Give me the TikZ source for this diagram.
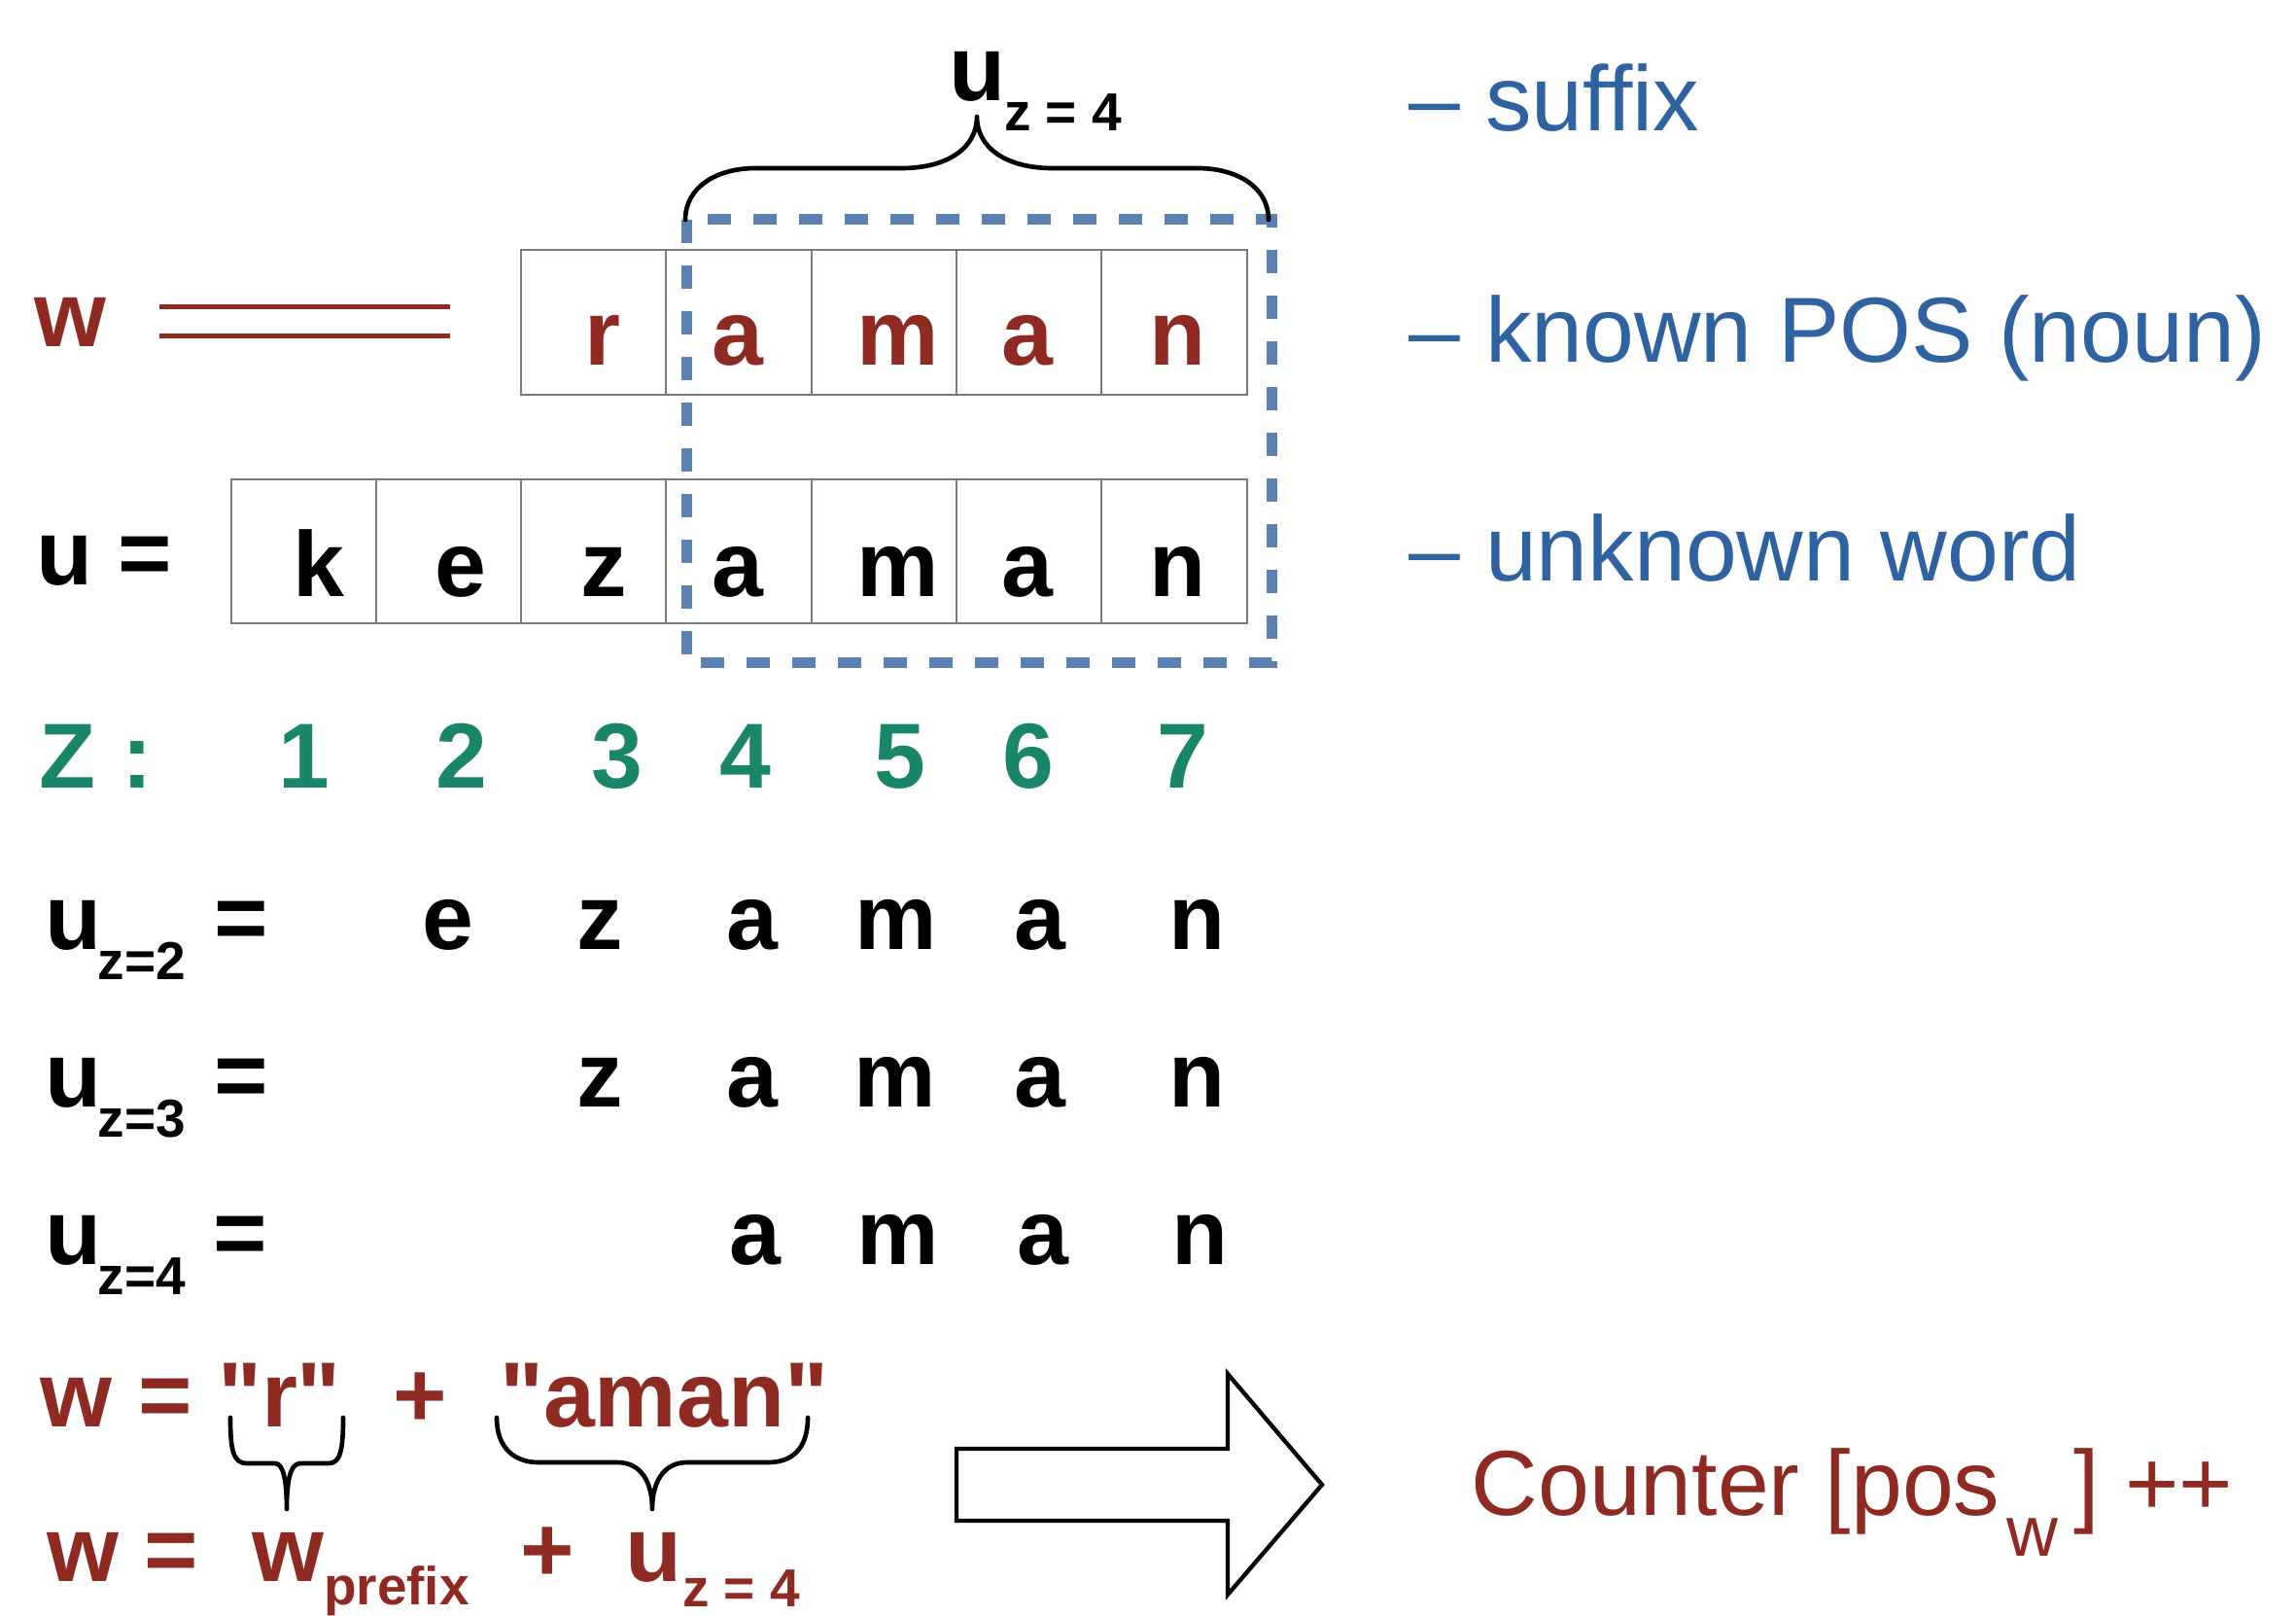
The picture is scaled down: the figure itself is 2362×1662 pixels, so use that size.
\documentclass[tikz,border=0pt]{standalone}
\usepackage{fontspec}
\setmainfont{Liberation Sans}
\newfontfamily\plainsans{Liberation Sans}
\definecolor{dred}{HTML}{8E2A22}
\definecolor{lblue}{HTML}{2E62A0}
\definecolor{dashblue}{HTML}{5B80B2}
\definecolor{zgreen}{HTML}{19866A}
\definecolor{cellgray}{HTML}{7A7A7A}
\begin{document}
\begin{tikzpicture}[x=0.3pt,y=-0.3pt,
  big/.style={font=\plainsans\fontsize{28.5}{34}\selectfont\bfseries, inner sep=0pt, outer sep=0pt},
  subs/.style={font=\plainsans\fontsize{16.5}{20}\selectfont\bfseries, inner sep=0pt, outer sep=0pt, anchor=base west},
  ch/.style={big, anchor=base},
  lft/.style={big, anchor=base west},
  lbl/.style={font=\plainsans\fontsize{28.5}{34}\selectfont, inner sep=0pt, outer sep=0pt, text=lblue, anchor=base west},
  cell/.style={draw=cellgray, line width=0.6pt},
  dashrect/.style={draw=dashblue, line width=3.3pt, dash pattern=on 7.2pt off 6.9pt},
  bracestyle/.style={draw=black, line width=1.4pt, line cap=round, line join=round},
  blockarrow/.style={draw=black, fill=white, line width=1.3pt, line join=miter}
]
\useasboundingbox (0,0) rectangle (2362,1662);

% cells, top row (w)
\foreach \i in {0,...,4}
  \draw[cell] ({536+149.3*\i},257) rectangle ({536+149.3*(\i+1)},406);
% cells, bottom row (u)
\foreach \i in {0,...,6}
  \draw[cell] ({237.5+149.3*\i},493) rectangle ({237.5+149.3*(\i+1)},641);

% dashed suffix frame
\draw[dashrect] (706,226) rectangle (1308,681);

% top brace
\draw[bracestyle] (705,226) .. controls (705,192) and (738,173) .. (777,173)
  -- (927,173) .. controls (975,173) and (1005,152) .. (1005,120)
  .. controls (1005,152) and (1035,173) .. (1083,173)
  -- (1232,173) .. controls (1272,173) and (1305,192) .. (1305,226);
\node[lft] (uz4top) at (976,104) {u};
\node[subs] (uz4topsub) at (1033,135) {z = 4};

% w label and double line
\node[lft, text=dred] (wlabel) at (35,357) {w};
\coordinate (dl1a) at (164,316); \coordinate (dl1b) at (463,316);
\coordinate (dl2a) at (164,346); \coordinate (dl2b) at (463,346);
\draw[dred, line width=1.5pt] (dl1a) -- (dl1b);
\draw[dred, line width=1.5pt] (dl2a) -- (dl2b);

% top row letters
\foreach \x/\c [count=\i] in {620/r,759/a,924/m,1057/a,1211/n}
  \node[ch, text=dred] (w\i) at (\x,376) {\c};

% u row
\node[lft] (ulabel) at (37,601) {u =};
\foreach \x/\c [count=\i] in {328/k,474/e,621/z,759/a,924/m,1057/a,1211/n}
  \node[ch] (u\i) at (\x,613) {\c};

% Z row
\node[lft, text=zgreen] (zlabel) at (41,810) {Z :};
\foreach \x/\c in {313/1,475/2,635/3,767/4,926/5,1058/6,1217/7}
  \node[ch, text=zgreen] (z\c) at (\x,810) {\c};

% u_{z=2}
\node[lft] (ua) at (46,976.5) {u};
\node[subs] (uasub) at (101,1007) {z=2};
\node[ch] (uaeq) at (248,976.5) {=};
\foreach \x/\c [count=\i] in {461/e,617/z,774/a,922/m,1070/a,1231/n}
  \node[ch] (ua\i) at (\x,976.5) {\c};

% u_{z=3}
\node[lft] (ub) at (46,1138) {u};
\node[subs] (ubsub) at (101,1169) {z=3};
\node[ch] (ubeq) at (248,1138) {=};
\foreach \x/\c [count=\i] in {617/z,774/a,921/m,1070/a,1231/n}
  \node[ch] (ub\i) at (\x,1138) {\c};

% u_{z=4}
\node[lft] (uc) at (46,1300) {u};
\node[subs] (ucsub) at (101,1331) {z=4};
\node[ch] (uceq) at (247,1300) {=};
\foreach \x/\c [count=\i] in {777/a,924/m,1073/a,1235/n}
  \node[ch] (uc\i) at (\x,1300) {\c};

% right-hand labels
\node[lbl] (lsuffix) at (1449,134.5) {– suffix};
\node[lbl] (lknown) at (1449,373) {– known POS (noun)};
\node[lbl] (lunknown) at (1449,597) {– unknown word};

% formula line 1
\node[lft, text=dred] (f1w) at (42,1467) {w =};
\node[lft, text=dred] (f1r) at (224,1467) {"r"};
\node[ch, text=dred] (f1plus) at (432,1467) {+};
\node[lft, text=dred] (f1aman) at (514,1467) {"aman"};

% braces under formula line 1
\draw[bracestyle] (237,1458) .. controls (237,1492) and (240,1505) .. (254,1505)
  -- (283,1505) .. controls (292,1505) and (295,1525) .. (295,1552)
  .. controls (295,1525) and (298,1505) .. (309,1505)
  -- (338,1505) .. controls (350,1505) and (353,1492) .. (353,1458);
\draw[bracestyle] (511,1458) .. controls (511,1490) and (530,1504) .. (554,1504)
  -- (635,1504) .. controls (660,1504) and (671,1525) .. (671,1552)
  .. controls (671,1525) and (682,1504) .. (707,1504)
  -- (790,1504) .. controls (815,1504) and (831,1490) .. (831,1458);

% formula line 2
\node[lft, text=dred] (f2w) at (48,1626) {w =};
\node[lft, text=dred] (f2wp) at (259,1626) {w};
\node[subs, text=dred] (f2wpsub) at (333,1650) {prefix};
\node[ch, text=dred] (f2plus) at (563,1626) {+};
\node[lft, text=dred] (f2u) at (643,1626) {u};
\node[subs, text=dred] (f2usub) at (702,1652) {z = 4};

% block arrow
\draw[blockarrow] (984,1490) -- (1263,1490) -- (1263,1413) -- (1360,1527)
  -- (1263,1640) -- (1263,1564) -- (984,1564) -- cycle;

% Counter text
\node[anchor=base west, inner sep=0pt, text=dred, font=\plainsans\fontsize{28.5}{34}\selectfont] (cnt) at (1513,1558) {Counter [pos};
\node[anchor=base west, inner sep=0pt, text=dred, font=\plainsans\fontsize{22}{26}\selectfont] (cntsub) at (2064,1600) {w};
\node[anchor=base west, inner sep=0pt, text=dred, font=\plainsans\fontsize{28.5}{34}\selectfont] (cntend) at (2133,1558) {] ++};
\end{tikzpicture}
\end{document}
